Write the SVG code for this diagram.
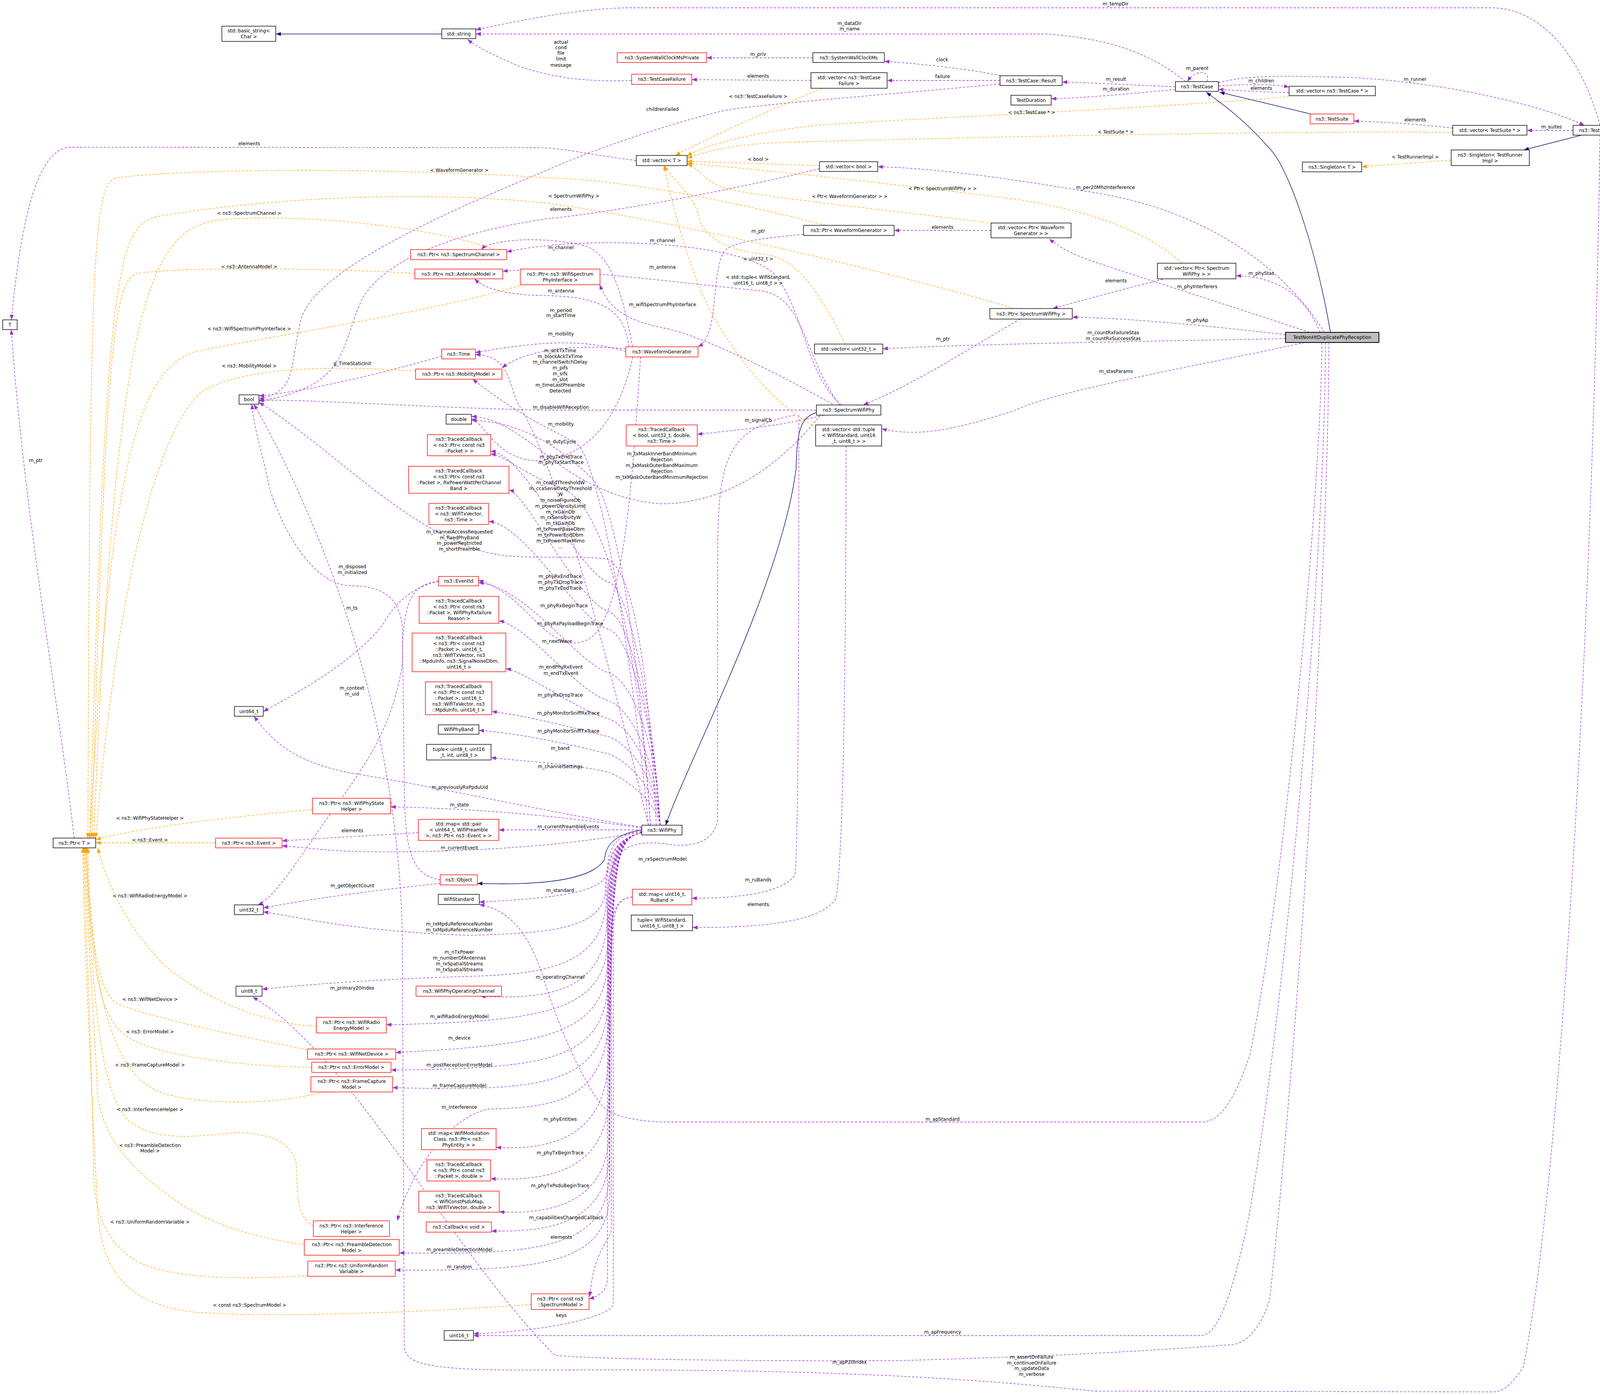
<svg xmlns="http://www.w3.org/2000/svg" width="4187" height="3572" viewBox="0 0 4187 3572">
<style>
text{font-family:"DejaVu Sans","Liberation Sans",sans-serif;font-size:12px;fill:#000}
.n rect{fill:#fff;stroke:#000;stroke-width:1.4}
.r rect{fill:#fff;stroke:#f00;stroke-width:1.4}
.m rect{fill:#bfbfbf;stroke:#000;stroke-width:2}
g.n text,g.r text,g.m text{text-anchor:middle}
.e{fill:none;stroke:#9a32cd;stroke-width:1.3;stroke-dasharray:6,4;marker-end:url(#ap)}
.o{fill:none;stroke:#ffa500;stroke-width:1.3;stroke-dasharray:6,4;marker-end:url(#ao)}
.i{fill:none;stroke:#191970;stroke-width:1.5;marker-end:url(#ai)}
.l{text-anchor:middle}
</style>
<defs>
<marker id="ap" markerUnits="userSpaceOnUse" markerWidth="14" markerHeight="10" refX="13" refY="5" orient="auto"><path d="M0,0L13,5L0,10z" fill="#9a32cd"/></marker>
<marker id="ao" markerUnits="userSpaceOnUse" markerWidth="14" markerHeight="10" refX="13" refY="5" orient="auto"><path d="M0,0L13,5L0,10z" fill="#ffa500"/></marker>
<marker id="ai" markerUnits="userSpaceOnUse" markerWidth="14" markerHeight="10" refX="13" refY="5" orient="auto"><path d="M0,0L13,5L0,10z" fill="#191970"/></marker>
</defs>
<rect width="4187" height="3572" fill="#fff"/>
<g id="connectors">
<path class="i" d="M1131,87L706,87"/>
<path class="i" d="M3406,851C3370,640 3300,430 3250,380C3180,300 3120,260 3088,236"/>
<path class="i" d="M3356,292L3122,236"/>
<path class="i" d="M4049,346L3901,384"/>
<path class="i" d="M2090,1056C2050,1070 2040,1100 2038,1200C2000,1500 1760,1950 1704,2113"/>
<path class="i" d="M1643,2125C1580,2135 1550,2160 1548,2200C1520,2250 1400,2268 1222,2262"/>

<path class="e" d="M3035,209C2950,140 2850,100 2680,87L1218,87"/>
<path class="e" d="M4096,321C4050,150 3950,20 3817,20L1600,20C1450,25 1300,60 1218,76"/>
<path class="e" d="M1617,206C1500,210 1420,200 1330,170C1260,140 1220,120 1197,101"/>
<path class="e" d="M2081,148L1809,148"/>
<path class="e" d="M2562,194C2500,180 2380,165 2264,157"/>
<path class="e" d="M2076,206L1771,204"/>
<path class="e" d="M2560,206L2271,206"/>
<path class="e" d="M2560,215C2300,240 1900,270 1846,285C1700,320 1500,390 1400,436C1100,560 800,700 770,820C740,950 760,1000 663,1022"/>
<path class="e" d="M1629,411C1500,395 1450,380 1380,378L180,377C110,380 60,500 29,819"/>
<path class="e" d="M2098,432C1900,480 1600,540 1400,560C1200,590 1000,650 930,760C870,880 900,990 663,1027"/>
<path class="e" d="M3390,851C3300,700 3100,540 2800,493C2600,460 2400,430 2247,427"/>
<path class="e" d="M2537,590L2289,590"/>
<path class="e" d="M2057,600C1950,610 1860,620 1850,650C1820,720 1840,860 1787,888"/>
<path class="e" d="M3353,851C3200,800 2950,720 2800,670C2740,650 2710,630 2686,612"/>
<path class="e" d="M3380,851C3340,760 3280,710 3164,706"/>
<path class="e" d="M2977,715C2900,735 2800,760 2695,790"/>
<path class="e" d="M3291,857C3100,835 2900,815 2745,812"/>
<path class="e" d="M2612,817C2500,880 2350,980 2210,1037"/>
<path class="e" d="M3291,867C3000,873 2500,880 2260,893"/>
<path class="e" d="M3340,877C3100,930 2700,1000 2600,1050C2450,1100 2350,1120 2257,1098"/>
<path class="e" d="M3090,209C3100,180 3060,175 3040,209"/>
<path class="e" d="M3009,222C2900,218 2800,212 2719,210"/>
<path class="e" d="M3009,229C2900,240 2780,250 2691,253"/>
<path class="e" d="M3119,220C3200,215 3260,215 3300,223"/>
<path class="e" d="M3300,237C3250,237 3180,232 3119,229"/>
<path class="e" d="M3119,212C3200,190 3300,195 3450,198C3700,210 3950,270 4056,321"/>
<path class="e" d="M4027,334L3909,334"/>
<path class="e" d="M3719,328C3650,320 3550,312 3466,310"/>
<path class="e" d="M2155,1037C2060,960 2060,790 1980,700C1900,620 1500,600 1297,645"/>
<path class="e" d="M1620,888C1600,800 1580,660 1500,630C1400,605 1260,610 1232,639"/>
<path class="e" d="M2150,1037C2060,920 2060,760 1950,745C1700,720 1400,680 1287,695"/>
<path class="e" d="M1610,888C1600,800 1550,760 1400,757C1300,756 1240,740 1215,714"/>
<path class="e" d="M2140,1040C2000,960 1800,860 1700,840C1600,820 1560,790 1535,729"/>
<path class="e" d="M1602,900C1500,870 1400,870 1217,903"/>
<path class="e" d="M1602,893C1450,880 1340,900 1285,942"/>
<path class="e" d="M1660,2113C1560,1700 1430,1200 1330,1040C1300,990 1310,910 1217,908"/>
<path class="e" d="M1131,912C1000,950 800,1000 663,1014"/>
<path class="e" d="M2090,1050L1400,1050C1100,1045 800,1022 663,1025"/>
<path class="e" d="M1660,2113C1620,1700 1540,1200 1480,1140C1420,1100 1350,1080 1210,971"/>
<path class="e" d="M1620,914C1590,1050 1520,1170 1380,1180C1270,1180 1240,1080 1207,1073"/>
<path class="e" d="M2110,1063C2000,1090 1900,1100 1785,1112"/>
<path class="e" d="M2100,1063C1950,1250 1800,1290 1690,1290C1550,1280 1440,1200 1380,1150C1300,1090 1260,1070 1207,1066"/>
<path class="e" d="M1665,2113C1640,1700 1560,1300 1440,1250C1350,1220 1300,1170 1256,1162"/>
<path class="e" d="M1665,2113C1640,1700 1580,1300 1520,1230C1400,1110 1300,1080 1207,1076"/>
<path class="e" d="M1690,2113C1680,1900 1620,1516 1560,1491C1480,1471 1350,1165 1256,1155"/>
<path class="e" d="M1690,2113C1680,1900 1620,1591 1560,1566C1480,1546 1350,1265 1303,1255"/>
<path class="e" d="M1690,2113C1680,1900 1620,1637 1560,1612C1480,1592 1350,1345 1251,1335"/>
<path class="e" d="M1640,914C1620,1200 1600,1600 1500,1640C1400,1680 1350,1520 1225,1486"/>
<path class="e" d="M1690,2113C1680,1900 1620,1748 1560,1723C1480,1703 1350,1502 1225,1492"/>
<path class="e" d="M1690,2113C1680,1950 1620,1820 1560,1795C1480,1775 1350,1600 1277,1590"/>
<path class="e" d="M1690,2113C1680,1980 1620,1866 1560,1841C1480,1821 1350,1722 1295,1712"/>
<path class="e" d="M1690,2113C1680,2000 1620,1912 1560,1887C1480,1867 1350,1832 1259,1822"/>
<path class="e" d="M1690,2113C1680,2030 1620,1956 1560,1931C1480,1911 1350,1880 1226,1870"/>
<path class="e" d="M1690,2113C1680,2060 1620,2003 1560,1978C1480,1958 1350,1950 1257,1940"/>
<path class="e" d="M1680,2113C1660,1700 1620,1450 1550,1430C1400,1420 1300,1440 1200,1400C1000,1320 850,1150 663,1030"/>
<path class="e" d="M1123,1490C1050,1500 1000,1560 980,1600C900,1700 750,1780 674,1822"/>
<path class="e" d="M1123,1487C1060,1500 1030,1520 1030,1700C1000,1900 900,2000 800,2150C750,2220 700,2300 660,2317"/>
<path class="e" d="M1127,2253C1060,2240 1035,2200 1035,2000L1030,1600C1020,1530 980,1500 900,1500C800,1500 720,1350 690,1250C670,1150 650,1100 645,1035"/>
<path class="e" d="M1127,2262C1000,2275 800,2300 674,2325"/>
<path class="e" d="M1643,2118C1400,2080 1100,2010 900,1980C750,1950 700,1900 650,1834"/>
<path class="e" d="M1643,2120C1400,2085 1200,2070 1000,2066"/>
<path class="e" d="M1643,2125L1277,2125"/>
<path class="e" d="M1071,2132L722,2153"/>
<path class="e" d="M1643,2130C1400,2175 1100,2185 900,2180C800,2175 760,2168 722,2166"/>
<path class="e" d="M2035,1063C1837,1100 1837,1200 1837,1500L1837,2100C1830,2150 1780,2175 1700,2160C1600,2150 1560,2180 1555,2300L1555,3280C1550,3310 1530,3320 1508,3326"/>
<path class="e" d="M2166,1142C2166,1600 2160,2200 2140,2300C2100,2370 1900,2375 1773,2375"/>
<path class="e" d="M2045,1063C2045,1500 2045,2150 2035,2240C2000,2295 1850,2300 1771,2300"/>
<path class="e" d="M1643,2128C1580,2135 1555,2170 1555,2230C1550,2290 1400,2300 1227,2310"/>
<path class="e" d="M1643,2132C1570,2150 1550,2200 1550,2280C1545,2380 1400,2390 1200,2395C900,2385 750,2345 674,2335"/>
<path class="e" d="M1643,2132C1570,2150 1552,2200 1552,2300C1550,2470 1400,2495 1200,2500C900,2510 750,2525 671,2533"/>
<path class="e" d="M1643,2132C1570,2150 1554,2200 1554,2350C1552,2540 1400,2560 1230,2551"/>
<path class="e" d="M1643,2132C1570,2150 1556,2200 1556,2400C1554,2590 1400,2615 989,2624"/>
<path class="e" d="M1643,2132C1570,2150 1556,2200 1556,2450C1554,2650 1400,2675 1013,2695"/>
<path class="e" d="M1643,2132C1570,2150 1557,2200 1557,2500C1555,2720 1400,2735 1001,2740"/>
<path class="e" d="M1643,2132C1570,2150 1557,2200 1557,2550C1555,2780 1400,2795 1005,2785"/>
<path class="e" d="M1643,2132C1570,2150 1558,2200 1558,2600C1555,2830 1400,2835 1250,2840C1150,2860 1050,3000 1017,3126"/>
<path class="e" d="M1643,2132C1570,2150 1558,2200 1558,2700C1556,2920 1400,2945 1270,2938"/>
<path class="e" d="M1643,2132C1570,2150 1559,2200 1559,2800C1557,3000 1400,3025 1256,3018"/>
<path class="e" d="M1643,2132C1570,2150 1559,2200 1559,2900C1557,3085 1400,3110 1278,3103"/>
<path class="e" d="M1643,2132C1570,2150 1560,2200 1560,2950C1558,3135 1400,3155 1258,3152"/>
<path class="e" d="M1643,2132C1570,2150 1560,2200 1560,3000C1558,3190 1400,3215 1022,3208"/>
<path class="e" d="M1643,2132C1570,2150 1561,2200 1561,3050C1559,3235 1400,3255 1012,3252"/>
<path class="e" d="M1619,2297C1580,2300 1565,2330 1565,2400L1565,3150C1560,3180 1520,3200 1510,3320"/>
<path class="e" d="M1619,2297C1580,2300 1570,2330 1570,2400L1570,3340C1565,3370 1400,3410 1212,3415"/>
<path class="e" d="M3384,877C3384,1190 3300,2200 3200,2700C3150,2850 3110,2873 3074,2873L1700,2873C1600,2870 1560,2850 1540,2830C1480,2750 1420,2600 1390,2500C1350,2380 1300,2330 1227,2316"/>
<path class="e" d="M3393,877C3393,1400 3300,2500 3200,3100C3150,3350 3110,3420 3074,3420L1212,3420"/>
<path class="e" d="M3402,877C3400,1500 3320,2700 3250,3330C3220,3420 3180,3440 3154,3443C2800,3470 2500,3478 2300,3484C1900,3486 1500,3480 1420,3470C1150,3200 900,2700 647,2553"/>
<path class="e" d="M4096,346C4080,1500 4000,3000 3900,3500C3860,3560 3840,3564 3818,3564L2800,3562C2400,3520 2000,3505 1400,3508C1100,3510 1040,3495 1035,3450L1030,2400C1020,1800 800,1300 650,1035"/>
<path class="e" d="M190,2146C150,1800 60,1300 29,844"/>

<path class="o" d="M2114,577C1900,520 1600,460 1400,455C1000,430 500,430 300,455C240,470 230,600 225,2146"/>
<path class="o" d="M2597,790C2300,700 1700,560 1400,520C1000,480 600,520 400,555C300,580 270,700 230,2146"/>
<path class="o" d="M1267,639C1100,580 800,550 600,560C400,570 300,650 240,2146"/>
<path class="o" d="M1062,700C900,690 500,680 350,700C290,720 270,900 235,2146"/>
<path class="o" d="M1340,729C1100,800 700,860 500,900C350,950 280,1200 230,2146"/>
<path class="o" d="M1064,950C900,940 650,930 520,1000C400,1100 300,1500 245,2146"/>
<path class="o" d="M800,2073C600,2090 350,2120 245,2150"/>
<path class="o" d="M552,2158L245,2158"/>
<path class="o" d="M810,2628C650,2620 500,2540 420,2470C330,2380 280,2280 250,2171"/>
<path class="o" d="M787,2688C600,2650 400,2610 300,2570C250,2540 230,2400 225,2171"/>
<path class="o" d="M798,2733C600,2730 380,2700 320,2650C250,2600 230,2450 222,2171"/>
<path class="o" d="M830,2796C700,2830 520,2830 420,2800C300,2760 240,2600 220,2171"/>
<path class="o" d="M802,3138C760,3120 760,3050 760,3000C760,2930 700,2900 600,2900C500,2910 400,2925 330,2870C260,2800 240,2600 218,2171"/>
<path class="o" d="M779,3187C650,3170 520,3130 430,3060C320,2980 260,2900 250,2800C240,2600 225,2400 216,2171"/>
<path class="o" d="M788,3266C650,3275 450,3280 350,3230C270,3180 240,3100 240,3000C235,2700 220,2400 214,2171"/>
<path class="o" d="M1360,3340C1100,3360 700,3375 500,3360C320,3340 260,3250 250,3100C230,2700 215,2400 212,2171"/>
<path class="o" d="M2105,226C1950,290 1800,360 1729,398"/>
<path class="o" d="M3300,247C3000,275 2400,300 2100,320C1950,335 1800,370 1759,400"/>
<path class="o" d="M3719,339C3300,335 2500,350 2000,365C1850,370 1790,395 1759,405"/>
<path class="o" d="M2098,424L1759,413"/>
<path class="o" d="M2540,572C2300,540 1900,500 1850,480C1800,460 1790,430 1759,420"/>
<path class="o" d="M3025,674C2950,600 2800,540 2600,510C2200,460 1900,430 1759,418"/>
<path class="o" d="M2165,881C2100,760 2050,660 1950,650C1850,640 1800,600 1790,560C1780,500 1720,460 1700,424"/>
<path class="o" d="M2088,1094C1990,1040 1900,940 1820,800C1760,680 1720,520 1700,424"/>
<path class="o" d="M3715,410L3486,427"/>
</g>
<g id="labels">
<text class="l" x="2175" y="64">m_dataDir</text><text class="l" x="2175" y="78">m_name</text>
<text class="l" x="2856" y="14">m_tempDir</text>
<text class="l" x="1436" y="112">actual</text><text class="l" x="1436" y="126">cond</text><text class="l" x="1436" y="140">file</text><text class="l" x="1436" y="155">limit</text><text class="l" x="1436" y="171">message</text>
<text class="l" x="1941" y="143">m_priv</text>
<text class="l" x="2412" y="157">clock</text>
<text class="l" x="1941" y="199">elements</text>
<text class="l" x="2413" y="200">failure</text>
<text class="l" x="1696" y="284">childrenFailed</text>
<text class="l" x="638" y="372">elements</text>
<text class="l" x="1436" y="540">elements</text>
<text class="l" x="2830" y="484">m_per20MhzInterference</text>
<text class="l" x="2413" y="586">elements</text>
<text class="l" x="1941" y="596">m_ptr</text>
<text class="l" x="3065" y="738">m_phyInterferers</text>
<text class="l" x="3229" y="704">m_phyStas</text>
<text class="l" x="2857" y="723">elements</text>
<text class="l" x="3065" y="824">m_phyAp</text>
<text class="l" x="2414" y="872">m_ptr</text>
<text class="l" x="2850" y="856">m_countRxFailureStas</text><text class="l" x="2850" y="871">m_countRxSuccessStas</text>
<text class="l" x="2857" y="955">m_stasParams</text>
<text class="l" x="3065" y="179">m_parent</text>
<text class="l" x="2857" y="207">m_result</text>
<text class="l" x="2857" y="232">m_duration</text>
<text class="l" x="3229" y="211">m_children</text>
<text class="l" x="3229" y="230">elements</text>
<text class="l" x="3623" y="207">m_runner</text>
<text class="l" x="3623" y="311">elements</text>
<text class="l" x="3972" y="329">m_suites</text>
<text class="l" x="1696" y="620">m_channel</text>
<text class="l" x="1436" y="638">m_channel</text>
<text class="l" x="1696" y="688">m_antenna</text>
<text class="l" x="1436" y="749">m_antenna</text>
<text class="l" x="1696" y="784">m_wifiSpectrumPhyInterface</text>
<text class="l" x="1436" y="799">m_period</text><text class="l" x="1436" y="812">m_startTime</text>
<text class="l" x="1436" y="859">m_mobility</text>
<text class="l" x="1434"><tspan x="1434" y="902">m_ackTxTime</tspan><tspan x="1434" dy="14.7">m_blockAckTxTime</tspan><tspan x="1434" dy="14.7">m_channelSwitchDelay</tspan><tspan x="1434" dy="14.7">m_pifs</tspan><tspan x="1434" dy="14.7">m_sifs</tspan><tspan x="1434" dy="14.7">m_slot</tspan><tspan x="1434" dy="14.7">m_timeLastPreamble</tspan><tspan x="1434" dy="14.7">Detected</tspan></text>
<text class="l" x="902" y="935">g_TimeStaticInit</text>
<text class="l" x="1436" y="1047">m_disableWifiReception</text>
<text class="l" x="1436" y="1090">m_mobility</text>
<text class="l" x="1436" y="1135">m_dutyCycle</text>
<text class="l" x="1941" y="1080">m_signalCb</text>
<text class="l" x="1694"><tspan x="1694" y="1166">m_txMaskInnerBandMinimum</tspan><tspan x="1694" dy="15">Rejection</tspan><tspan x="1694" dy="15">m_txMaskOuterBandMaximum</tspan><tspan x="1694" dy="15">Rejection</tspan><tspan x="1694" dy="15">m_txMaskOuterBandMinimumRejection</tspan></text>
<text class="l" x="1436" y="1174">m_phyTxEndTrace</text><text class="l" x="1436" y="1188">m_phyTxStartTrace</text>
<text class="l" x="1435"><tspan x="1435" y="1240">m_ccaEdThresholdW</tspan><tspan x="1435" dy="14.9">m_ccaSensitivityThreshold</tspan><tspan x="1435" dy="14.9">W</tspan><tspan x="1435" dy="14.9">m_noiseFigureDb</tspan><tspan x="1435" dy="14.9">m_powerDensityLimit</tspan><tspan x="1435" dy="14.9">m_rxGainDb</tspan><tspan x="1435" dy="14.9">m_rxSensitivityW</tspan><tspan x="1435" dy="14.9">m_txGainDb</tspan><tspan x="1435" dy="14.9">m_txPowerBaseDbm</tspan><tspan x="1435" dy="14.9">m_txPowerEndDbm</tspan><tspan x="1435" dy="14.9">m_txPowerMaxMimo</tspan><tspan x="1435" dy="14.9">...</tspan></text>
<text class="l" x="1176"><tspan x="1176" y="1366">m_channelAccessRequested</tspan><tspan x="1176" dy="14.7">m_fixedPhyBand</tspan><tspan x="1176" dy="14.7">m_powerRestricted</tspan><tspan x="1176" dy="14.7">m_shortPreamble</tspan></text>
<text class="l" x="1434"><tspan x="1434" y="1480">m_phyRxEndTrace</tspan><tspan x="1434" dy="15">m_phyTxDropTrace</tspan><tspan x="1434" dy="15">m_phyTxEndTrace</tspan></text>
<text class="l" x="1444" y="1555">m_phyRxBeginTrace</text>
<text class="l" x="1460" y="1601">m_phyRxPayloadBeginTrace</text>
<text class="l" x="1426" y="1646">m_nextWave</text>
<text class="l" x="1436" y="1712">m_endPhyRxEvent</text><text class="l" x="1436" y="1728">m_endTxEvent</text>
<text class="l" x="1434" y="1784">m_phyRxDropTrace</text>
<text class="l" x="1455" y="1830">m_phyMonitorSniffRxTrace</text>
<text class="l" x="1455" y="1876">m_phyMonitorSniffTxTrace</text>
<text class="l" x="1434" y="1920">m_band</text>
<text class="l" x="1434" y="1967">m_channelSettings</text>
<text class="l" x="902" y="1455">m_disposed</text><text class="l" x="902" y="1470">m_initialized</text>
<text class="l" x="901" y="1561">m_ts</text>
<text class="l" x="901" y="1766">m_context</text><text class="l" x="901" y="1781">m_uid</text>
<text class="l" x="1177" y="2020">m_previouslyRxPpduUid</text>
<text class="l" x="1176" y="2065">m_state</text>
<text class="l" x="1455" y="2121">m_currentPreambleEvents</text>
<text class="l" x="902" y="2131">elements</text>
<text class="l" x="1176" y="2175">m_currentEvent</text>
<text class="l" x="1696" y="2204">m_rxSpectrumModel</text>
<text class="l" x="902" y="2272">m_getObjectCount</text>
<text class="l" x="1941" y="2257">m_ruBands</text>
<text class="l" x="1434" y="2284">m_standard</text>
<text class="l" x="1941" y="2320">elements</text>
<text class="l" x="1176" y="2370">m_rxMpduReferenceNumber</text><text class="l" x="1176" y="2385">m_txMpduReferenceNumber</text>
<text class="l" x="1176"><tspan x="1176" y="2442">m_nTxPower</tspan><tspan x="1176" dy="15">m_numberOfAntennas</tspan><tspan x="1176" dy="15">m_rxSpatialStreams</tspan><tspan x="1176" dy="15">m_txSpatialStreams</tspan></text>
<text class="l" x="1434" y="2506">m_operatingChannel</text>
<text class="l" x="902" y="2534">m_primary20Index</text>
<text class="l" x="1176" y="2607">m_wifiRadioEnergyModel</text>
<text class="l" x="1176" y="2662">m_device</text>
<text class="l" x="1176" y="2731">m_postReceptionErrorModel</text>
<text class="l" x="1176" y="2784">m_frameCaptureModel</text>
<text class="l" x="1176" y="2839">m_interference</text>
<text class="l" x="1434" y="2870">m_phyEntities</text>
<text class="l" x="2413" y="2870">m_apStandard</text>
<text class="l" x="1434" y="2956">m_phyTxBeginTrace</text>
<text class="l" x="1434" y="3040">m_phyTxPsduBeginTrace</text>
<text class="l" x="1450" y="3122">m_capabilitiesChangedCallback</text>
<text class="l" x="1437" y="3172">elements</text>
<text class="l" x="1176" y="3204">m_preambleDetectionModel</text>
<text class="l" x="1176" y="3248">m_random</text>
<text class="l" x="1437" y="3372">keys</text>
<text class="l" x="2413" y="3415">m_apFrequency</text>
<text class="l" x="2175" y="3492">m_apP20Index</text>
<text class="l" x="2641"><tspan x="2641" y="3479">m_assertOnFailure</tspan><tspan x="2641" dy="14.7">m_continueOnFailure</tspan><tspan x="2641" dy="14.7">m_updateData</tspan><tspan x="2641" dy="14.7">m_verbose</tspan></text>
<text class="l" x="92" y="1183">m_ptr</text>
<text class="l" x="1176" y="440">&lt; WaveformGenerator &gt;</text>
<text class="l" x="1469" y="506">&lt; SpectrumWifiPhy &gt;</text>
<text class="l" x="638" y="550">&lt; ns3::SpectrumChannel &gt;</text>
<text class="l" x="638" y="687">&lt; ns3::AntennaModel &gt;</text>
<text class="l" x="638" y="846">&lt; ns3::WifiSpectrumPhyInterface &gt;</text>
<text class="l" x="638" y="941">&lt; ns3::MobilityModel &gt;</text>
<text class="l" x="384" y="2099">&lt; ns3::WifiPhyStateHelper &gt;</text>
<text class="l" x="384" y="2155">&lt; ns3::Event &gt;</text>
<text class="l" x="384" y="2298">&lt; ns3::WifiRadioEnergyModel &gt;</text>
<text class="l" x="384" y="2563">&lt; ns3::WifiNetDevice &gt;</text>
<text class="l" x="384" y="2646">&lt; ns3::ErrorModel &gt;</text>
<text class="l" x="384" y="2731">&lt; ns3::FrameCaptureModel &gt;</text>
<text class="l" x="384" y="2845">&lt; ns3::InterferenceHelper &gt;</text>
<text class="l" x="384" y="2937">&lt; ns3::PreambleDetection</text><text class="l" x="384" y="2951">Model &gt;</text>
<text class="l" x="384" y="3133">&lt; ns3::UniformRandomVariable &gt;</text>
<text class="l" x="639" y="3346">&lt; const ns3::SpectrumModel &gt;</text>
<text class="l" x="1941" y="251">&lt; ns3::TestCaseFailure &gt;</text>
<text class="l" x="2641" y="292">&lt; ns3::TestCase * &gt;</text>
<text class="l" x="1941" y="412">&lt; bool &gt;</text>
<text class="l" x="2413" y="487">&lt; Ptr&lt; SpectrumWifiPhy &gt; &gt;</text>
<text class="l" x="2175" y="507">&lt; Ptr&lt; WaveformGenerator &gt; &gt;</text>
<text class="l" x="1941" y="667">&lt; uint32_t &gt;</text>
<text class="l" x="1941" y="714">&lt; std::tuple&lt; WifiStandard,</text><text class="l" x="1941" y="729">uint16_t, uint8_t &gt; &gt;</text>
<text class="l" x="2856" y="342">&lt; TestSuite * &gt;</text>
<text class="l" x="3623" y="406">&lt; TestRunnerImpl &gt;</text>
</g>
<g id="n1" class="n"><rect x="568" y="67" width="138" height="39"/><text x="637" y="83">std::basic_string&lt;</text><text x="637" y="98">Char &gt;</text></g>
<g id="n2" class="n"><rect x="1131" y="74" width="87" height="25"/><text x="1174.5" y="90.5">std::string</text></g>
<g id="n3" class="r"><rect x="1580" y="135" width="229" height="25"/><text x="1694.5" y="151.5">ns3::SystemWallClockMsPrivate</text></g>
<g id="n4" class="n"><rect x="2081" y="135" width="183" height="25"/><text x="2172.5" y="151.5">ns3::SystemWallClockMs</text></g>
<g id="n5" class="r"><rect x="1617" y="190" width="154" height="26"/><text x="1694" y="207">ns3::TestCaseFailure</text></g>
<g id="n6" class="n"><rect x="2076" y="186" width="195" height="40"/><text x="2173.5" y="202.5">std::vector&lt; ns3::TestCase</text><text x="2173.5" y="217.5">Failure &gt;</text></g>
<g id="n7" class="n"><rect x="2560" y="194" width="159" height="25"/><text x="2639.5" y="210.5">ns3::TestCase::Result</text></g>
<g id="n8" class="n"><rect x="3009" y="209" width="110" height="25"/><text x="3064" y="225.5">ns3::TestCase</text></g>
<g id="n9" class="n"><rect x="3300" y="221" width="221" height="24"/><text x="3410.5" y="237">std::vector&lt; ns3::TestCase * &gt;</text></g>
<g id="n10" class="n"><rect x="2588" y="244" width="103" height="25"/><text x="2639.5" y="260.5">TestDuration</text></g>
<g id="n11" class="r"><rect x="3354" y="292" width="112" height="25"/><text x="3410" y="308.5">ns3::TestSuite</text></g>
<g id="n12" class="n"><rect x="3719" y="321" width="190" height="25"/><text x="3814" y="337.5">std::vector&lt; TestSuite * &gt;</text></g>
<g id="n13" class="n"><rect x="4027" y="321" width="153" height="25"/><text x="4103.5" y="337.5">ns3::TestRunnerImpl</text></g>
<g id="n14" class="n"><rect x="3334" y="415" width="152" height="25"/><text x="3410" y="431.5">ns3::Singleton&lt; T &gt;</text></g>
<g id="n15" class="n"><rect x="3715" y="384" width="200" height="40"/><text x="3815" y="400.5">ns3::Singleton&lt; TestRunner</text><text x="3815" y="415.5">Impl &gt;</text></g>
<g id="n16" class="n"><rect x="1629" y="398" width="130" height="26"/><text x="1694" y="415">std::vector&lt; T &gt;</text></g>
<g id="n17" class="n"><rect x="2098" y="414" width="149" height="25"/><text x="2172.5" y="430.5">std::vector&lt; bool &gt;</text></g>
<g id="n18" class="n"><rect x="7" y="819" width="37" height="25"/><text x="25.5" y="835.5">T</text></g>
<g id="n19" class="n"><rect x="2537" y="571" width="205" height="38"/><text x="2639.5" y="586.5">std::vector&lt; Ptr&lt; Waveform</text><text x="2639.5" y="601.5">Generator &gt; &gt;</text></g>
<g id="n20" class="n"><rect x="2057" y="577" width="232" height="26"/><text x="2173" y="594">ns3::Ptr&lt; WaveformGenerator &gt;</text></g>
<g id="n21" class="n"><rect x="2963" y="674" width="201" height="40"/><text x="3063.5" y="690.5">std::vector&lt; Ptr&lt; Spectrum</text><text x="3063.5" y="705.5">WifiPhy &gt; &gt;</text></g>
<g id="n22" class="n"><rect x="2534" y="790" width="211" height="27"/><text x="2639.5" y="807.5">ns3::Ptr&lt; SpectrumWifiPhy &gt;</text></g>
<g id="n23" class="m"><rect x="3291" y="851" width="239" height="26"/><text x="3410.5" y="868">TestNonHtDuplicatePhyReception</text></g>
<g id="n24" class="n"><rect x="2085" y="881" width="175" height="25"/><text x="2172.5" y="897.5">std::vector&lt; uint32_t &gt;</text></g>
<g id="n25" class="r"><rect x="1051" y="639" width="246" height="26"/><text x="1174" y="656">ns3::Ptr&lt; ns3::SpectrumChannel &gt;</text></g>
<g id="n26" class="r"><rect x="1062" y="689" width="225" height="25"/><text x="1174.5" y="705.5">ns3::Ptr&lt; ns3::AntennaModel &gt;</text></g>
<g id="n27" class="r"><rect x="1332" y="689" width="204" height="40"/><text x="1434" y="705.5">ns3::Ptr&lt; ns3::WifiSpectrum</text><text x="1434" y="720.5">PhyInterface &gt;</text></g>
<g id="n28" class="r"><rect x="1602" y="888" width="185" height="26"/><text x="1694.5" y="905">ns3::WaveformGenerator</text></g>
<g id="n29" class="r"><rect x="1131" y="894" width="86" height="25"/><text x="1174" y="910.5">ns3::Time</text></g>
<g id="n30" class="r"><rect x="1064" y="945" width="221" height="26"/><text x="1174.5" y="962">ns3::Ptr&lt; ns3::MobilityModel &gt;</text></g>
<g id="n31" class="n"><rect x="612" y="1011" width="51" height="24"/><text x="637.5" y="1027">bool</text></g>
<g id="n32" class="n"><rect x="2090" y="1037" width="165" height="26"/><text x="2172.5" y="1054">ns3::SpectrumWifiPhy</text></g>
<g id="n33" class="n"><rect x="1142" y="1061" width="65" height="25"/><text x="1174.5" y="1077.5">double</text></g>
<g id="n34" class="r"><rect x="1603" y="1088" width="182" height="54"/><text x="1694" y="1104">ns3::TracedCallback</text><text x="1694" y="1119">&lt; bool, uint32_t, double,</text><text x="1694" y="1134">ns3::Time &gt;</text></g>
<g id="n35" class="n"><rect x="2088" y="1088" width="169" height="54"/><text x="2172.5" y="1104">std::vector&lt; std::tuple</text><text x="2172.5" y="1119">&lt; WifiStandard, uint16</text><text x="2172.5" y="1134">_t, uint8_t &gt; &gt;</text></g>
<g id="n36" class="r"><rect x="1094" y="1113" width="162" height="54"/><text x="1175" y="1129">ns3::TracedCallback</text><text x="1175" y="1144">&lt; ns3::Ptr&lt; const ns3</text><text x="1175" y="1159">::Packet &gt; &gt;</text></g>
<g id="n37" class="r"><rect x="1046" y="1194" width="257" height="69"/><text x="1174.5" y="1210">ns3::TracedCallback</text><text x="1174.5" y="1225">&lt; ns3::Ptr&lt; const ns3</text><text x="1174.5" y="1240">::Packet &gt;, RxPowerWattPerChannel</text><text x="1174.5" y="1255">Band &gt;</text></g>
<g id="n38" class="r"><rect x="1098" y="1289" width="153" height="54"/><text x="1174.5" y="1305">ns3::TracedCallback</text><text x="1174.5" y="1320">&lt; ns3::WifiTxVector,</text><text x="1174.5" y="1335">ns3::Time &gt;</text></g>
<g id="n39" class="r"><rect x="1123" y="1476" width="102" height="24"/><text x="1174" y="1492">ns3::EventId</text></g>
<g id="n40" class="r"><rect x="1073" y="1527" width="204" height="69"/><text x="1175" y="1543">ns3::TracedCallback</text><text x="1175" y="1558">&lt; ns3::Ptr&lt; const ns3</text><text x="1175" y="1573">::Packet &gt;, WifiPhyRxfailure</text><text x="1175" y="1588">Reason &gt;</text></g>
<g id="n41" class="r"><rect x="1055" y="1621" width="240" height="99"/><text x="1175" y="1637">ns3::TracedCallback</text><text x="1175" y="1652">&lt; ns3::Ptr&lt; const ns3</text><text x="1175" y="1667">::Packet &gt;, uint16_t,</text><text x="1175" y="1682">ns3::WifiTxVector, ns3</text><text x="1175" y="1697">::MpduInfo, ns3::SignalNoiseDbm,</text><text x="1175" y="1712">uint16_t &gt;</text></g>
<g id="n42" class="r"><rect x="1089" y="1746" width="170" height="84"/><text x="1174" y="1762">ns3::TracedCallback</text><text x="1174" y="1777">&lt; ns3::Ptr&lt; const ns3</text><text x="1174" y="1792">::Packet &gt;, uint16_t,</text><text x="1174" y="1807">ns3::WifiTxVector, ns3</text><text x="1174" y="1822">::MpduInfo, uint16_t &gt;</text></g>
<g id="n43" class="n"><rect x="1122" y="1856" width="104" height="24"/><text x="1174" y="1872">WifiPhyBand</text></g>
<g id="n44" class="n"><rect x="1092" y="1906" width="165" height="40"/><text x="1174.5" y="1922.5">tuple&lt; uint8_t, uint16</text><text x="1174.5" y="1937.5">_t, int, uint8_t &gt;</text></g>
<g id="n45" class="n"><rect x="600" y="1809" width="74" height="25"/><text x="637" y="1825.5">uint64_t</text></g>
<g id="n46" class="r"><rect x="800" y="2044" width="200" height="40"/><text x="900" y="2060.5">ns3::Ptr&lt; ns3::WifiPhyState</text><text x="900" y="2075.5">Helper &gt;</text></g>
<g id="n47" class="r"><rect x="1071" y="2098" width="206" height="54"/><text x="1174" y="2114">std::map&lt; std::pair</text><text x="1174" y="2129">&lt; uint64_t, WifiPreamble</text><text x="1174" y="2144">&gt;, ns3::Ptr&lt; ns3::Event &gt; &gt;</text></g>
<g id="n48" class="n"><rect x="136" y="2146" width="109" height="25"/><text x="190.5" y="2162.5">ns3::Ptr&lt; T &gt;</text></g>
<g id="n49" class="r"><rect x="552" y="2146" width="170" height="25"/><text x="637" y="2162.5">ns3::Ptr&lt; ns3::Event &gt;</text></g>
<g id="n50" class="n"><rect x="1643" y="2113" width="103" height="25"/><text x="1694.5" y="2129.5">ns3::WifiPhy</text></g>
<g id="n51" class="r"><rect x="1127" y="2240" width="95" height="26"/><text x="1174.5" y="2257">ns3::Object</text></g>
<g id="n52" class="n"><rect x="1122" y="2290" width="105" height="26"/><text x="1174.5" y="2307">WifiStandard</text></g>
<g id="n53" class="n"><rect x="600" y="2317" width="74" height="25"/><text x="637" y="2333.5">uint32_t</text></g>
<g id="n54" class="r"><rect x="1619" y="2277" width="152" height="40"/><text x="1695" y="2293.5">std::map&lt; uint16_t,</text><text x="1695" y="2308.5">RuBand &gt;</text></g>
<g id="n55" class="n"><rect x="1616" y="2343" width="157" height="40"/><text x="1694.5" y="2359.5">tuple&lt; WifiStandard,</text><text x="1694.5" y="2374.5">uint16_t, uint8_t &gt;</text></g>
<g id="n56" class="n"><rect x="604" y="2525" width="67" height="26"/><text x="637.5" y="2542">uint8_t</text></g>
<g id="n57" class="r"><rect x="1065" y="2525" width="219" height="26"/><text x="1174.5" y="2542">ns3::WifiPhyOperatingChannel</text></g>
<g id="n58" class="r"><rect x="810" y="2605" width="179" height="40"/><text x="899.5" y="2621.5">ns3::Ptr&lt; ns3::WifiRadio</text><text x="899.5" y="2636.5">EnergyModel &gt;</text></g>
<g id="n59" class="r"><rect x="787" y="2686" width="226" height="26"/><text x="900" y="2703">ns3::Ptr&lt; ns3::WifiNetDevice &gt;</text></g>
<g id="n60" class="r"><rect x="798" y="2720" width="203" height="26"/><text x="899.5" y="2737">ns3::Ptr&lt; ns3::ErrorModel &gt;</text></g>
<g id="n61" class="r"><rect x="796" y="2757" width="209" height="39"/><text x="900.5" y="2773">ns3::Ptr&lt; ns3::FrameCapture</text><text x="900.5" y="2788">Model &gt;</text></g>
<g id="n62" class="r"><rect x="1079" y="2890" width="191" height="54"/><text x="1174.5" y="2906">std::map&lt; WifiModulation</text><text x="1174.5" y="2921">Class, ns3::Ptr&lt; ns3::</text><text x="1174.5" y="2936">PhyEntity &gt; &gt;</text></g>
<g id="n63" class="r"><rect x="1093" y="2970" width="163" height="54"/><text x="1174.5" y="2986">ns3::TracedCallback</text><text x="1174.5" y="3001">&lt; ns3::Ptr&lt; const ns3</text><text x="1174.5" y="3016">::Packet &gt;, double &gt;</text></g>
<g id="n64" class="r"><rect x="1072" y="3050" width="206" height="54"/><text x="1175" y="3066">ns3::TracedCallback</text><text x="1175" y="3081">&lt; WifiConstPsduMap,</text><text x="1175" y="3096">ns3::WifiTxVector, double &gt;</text></g>
<g id="n65" class="r"><rect x="1091" y="3129" width="167" height="26"/><text x="1174.5" y="3146">ns3::Callback&lt; void &gt;</text></g>
<g id="n66" class="r"><rect x="802" y="3126" width="195" height="40"/><text x="899.5" y="3142.5">ns3::Ptr&lt; ns3::Interference</text><text x="899.5" y="3157.5">Helper &gt;</text></g>
<g id="n67" class="r"><rect x="779" y="3174" width="243" height="40"/><text x="900.5" y="3190.5">ns3::Ptr&lt; ns3::PreambleDetection</text><text x="900.5" y="3205.5">Model &gt;</text></g>
<g id="n68" class="r"><rect x="788" y="3229" width="224" height="39"/><text x="900" y="3245">ns3::Ptr&lt; ns3::UniformRandom</text><text x="900" y="3260">Variable &gt;</text></g>
<g id="n69" class="r"><rect x="1360" y="3313" width="148" height="40"/><text x="1434" y="3329.5">ns3::Ptr&lt; const ns3</text><text x="1434" y="3344.5">::SpectrumModel &gt;</text></g>
<g id="n70" class="n"><rect x="1137" y="3407" width="75" height="25"/><text x="1174.5" y="3423.5">uint16_t</text></g>
</svg>
